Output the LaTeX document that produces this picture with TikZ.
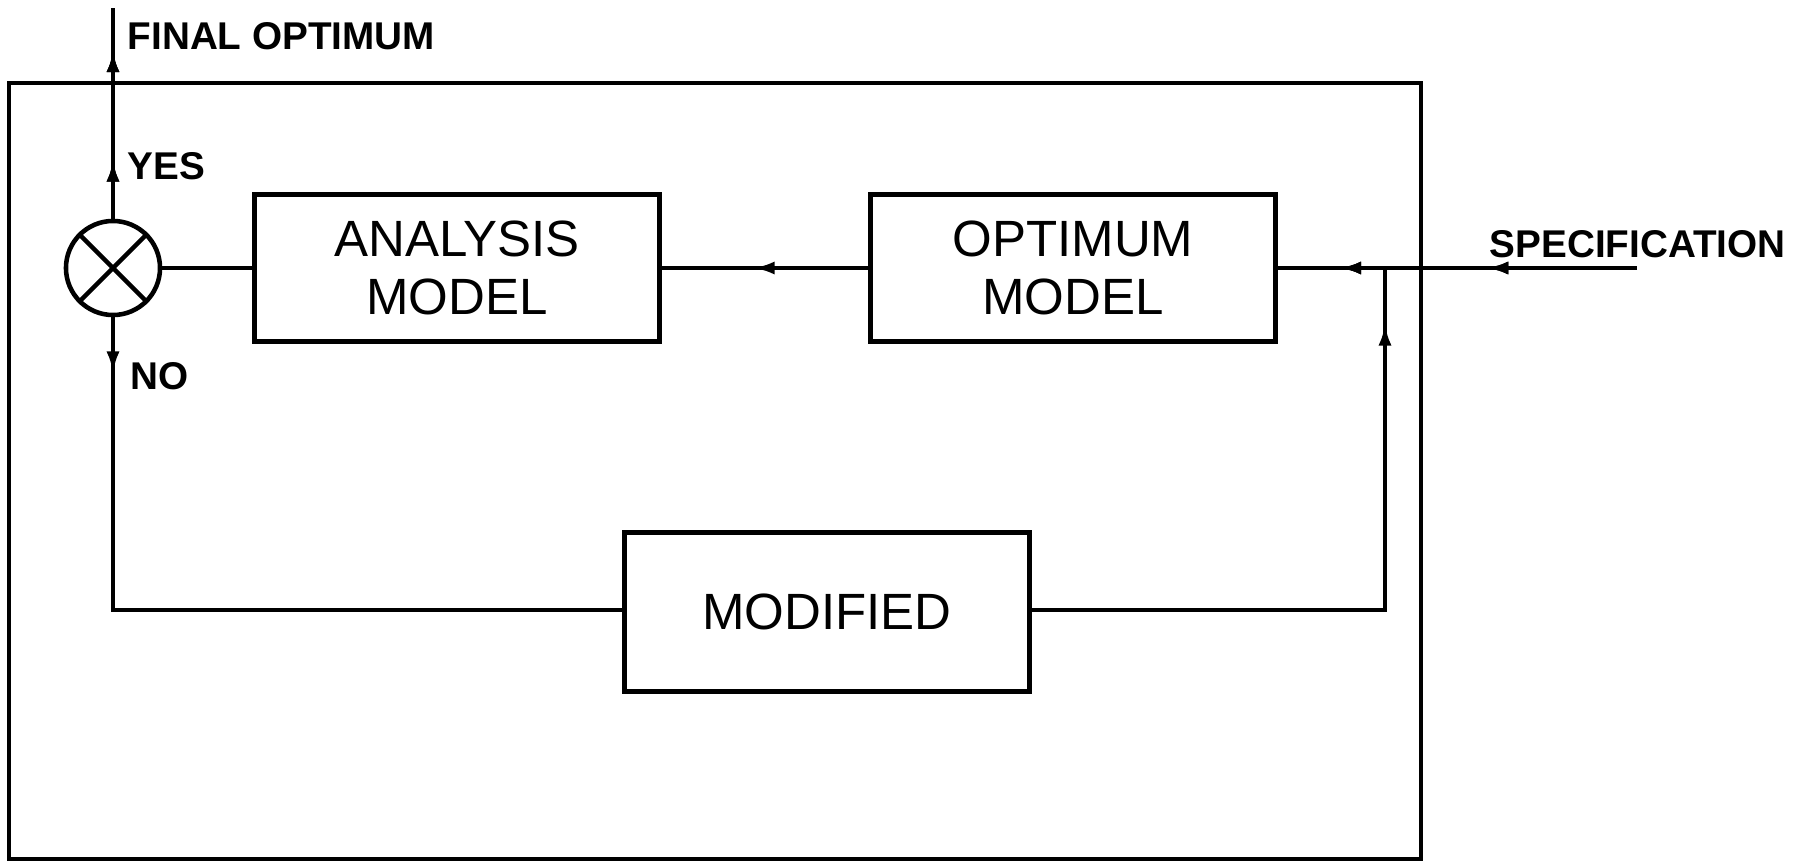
\documentclass[tikz,border=0pt]{standalone}
\usepackage{fontspec}
\setmainfont{Liberation Sans}
\usepackage{tikz}
\usetikzlibrary{arrows.meta,decorations.markings,positioning}
\tikzset{
    blockbox/.style  = {rectangle, draw, line width=1.4pt, minimum width=4.05cm,
                        minimum height=1.47cm, align=center,
                        font=\fontsize{14.5}{16.5}\selectfont},
    mixer/.style     = {circle, draw, line width=1.3pt, minimum size=0.94cm, inner sep=0pt},
    flowline/.style  = {line width=1.2pt},
    sigtext/.style   = {anchor=base west, inner sep=0pt,
                        font=\fontsize{11}{13}\selectfont\bfseries},
    midarrow/.style  = {postaction={decorate}, decoration={markings,
                        mark=at position #1 with {\arrow{Latex[length=2.2mm,width=1.3mm]}}}}
}
\begin{document}
\begin{tikzpicture}[x=0.01cm, y=-0.01cm]
\useasboundingbox (0,0) rectangle (1809,864);
% frame
\draw[line width=1.1pt] (9,83) rectangle (1421,859);
% blocks
\node[mixer]    (circ) at (113,268) {};
\draw[line width=1.3pt] (circ.45) -- (circ.225) (circ.135) -- (circ.315);
\node[blockbox] (ana)  at (457,268)  {ANALYSIS\\MODEL};
\node[blockbox] (opt)  at (1073,268) {OPTIMUM\\MODEL};
\node[blockbox, minimum height=1.59cm] (mod) at (827,612) {MODIFIED};
% free ends and corners
\coordinate (out)  at (113,8);
\coordinate (spec) at (1637,268);
\coordinate (nl)   at (113,610);
\coordinate (nr)   at (1385,610);
\coordinate (jn)   at (1385,268);
% connectors
\draw[flowline, midarrow=0.28, midarrow=0.8] (circ.north) -- (out);
\draw[flowline, midarrow=0.07] (circ.south) -- (nl) -- (mod.west |- nl);
\draw[flowline] (ana.west) -- (circ.east);
\draw[flowline, midarrow=0.56] (opt.west) -- (ana.east);
\draw[flowline, midarrow=0.42, midarrow=0.83] (spec) -- (opt.east);
\draw[flowline, midarrow=0.92] (mod.east |- nr) -- (nr) -- (jn);
% labels
\node[sigtext] (lfin)  at (127,50)   {FINAL OPTIMUM};
\node[sigtext] (lyes)  at (127,180)  {YES};
\node[sigtext] (lno)   at (130,390)  {NO};
\node[sigtext] (lspec) at (1489,258) {SPECIFICATION};
\end{tikzpicture}
\end{document}
